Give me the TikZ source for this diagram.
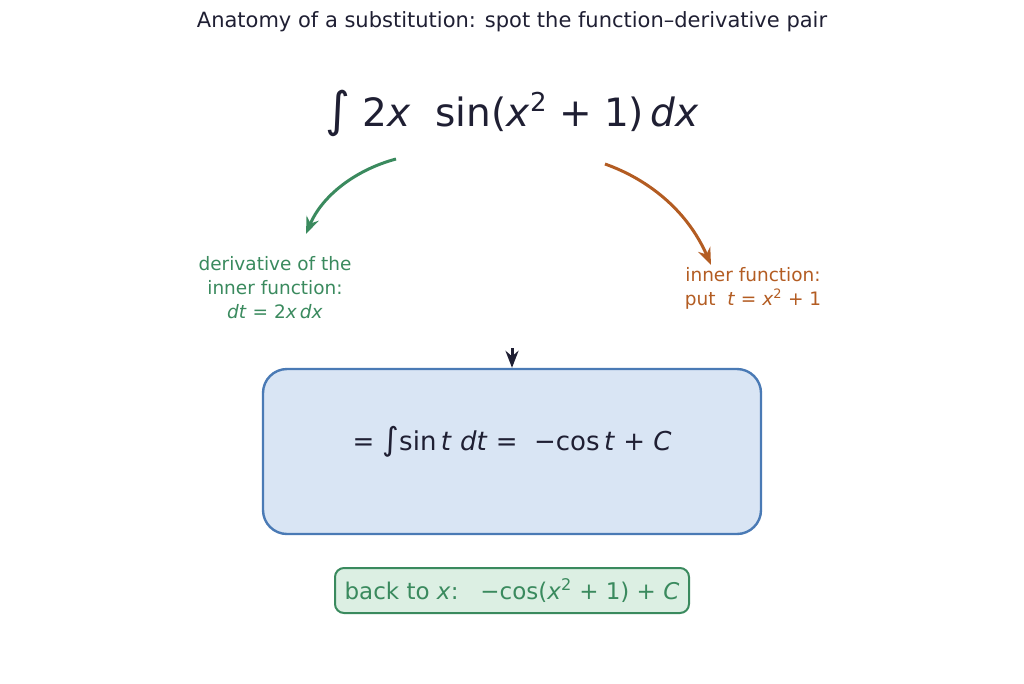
\documentclass[tikz,border=0pt]{standalone}
\usepackage{fontspec}
\setmainfont{DejaVu Sans}
\usetikzlibrary{arrows.meta}
\definecolor{ink}{HTML}{1F1F33}
\definecolor{grn}{HTML}{3A8A5E}
\definecolor{org}{HTML}{B35C22}
\definecolor{bfill}{HTML}{D9E5F4}
\definecolor{bline}{HTML}{4A7AB5}
\definecolor{gfill}{HTML}{DCEFE3}
\newcommand{\vx}[1]{\textit{#1}}
\newcommand{\sq}{\raisebox{15pt}{\fontsize{26}{26}\selectfont 2}}
\begin{document}
\begin{tikzpicture}[x=1pt,y=-1pt,
  arr/.style={line width=3pt,-{Stealth[length=17pt,width=13pt]}},
  lab/.style={align=center,font=\fontsize{18.5}{24}\selectfont}]
\useasboundingbox (0,0) rectangle (1024,683);
\node[text=ink,font=\fontsize{21}{25}\selectfont] (title) at (512,22) {Anatomy of a substitution: spot the function–derivative pair};
\node[text=ink,font=\fontsize{39}{44}\selectfont] (main) at (512,113) {{\fontsize{48}{50}\selectfont∫} 2\vx{x}\ \ sin(\vx{x}\sq{} + 1)\,\vx{dx}};
\coordinate (g1) at (396,159); \coordinate (g2) at (306,234);
\coordinate (o1) at (605,164); \coordinate (o2) at (711,265);
\draw[arr,grn] (g1) .. controls (355,170) and (322,196) .. (g2);
\draw[arr,org] (o1) .. controls (650,180) and (688,212) .. (o2);
\node[lab,text=grn] (gl) at (275,288) {derivative of the\\inner function:\\\vx{dt} = 2\vx{x}\,\vx{dx}};
\node[lab,text=org] (ol) at (753,288) {inner function:\\put\ \ \vx{t} = \vx{x}\textsuperscript{2} + 1};
\node[draw=bline,fill=bfill,line width=2.4pt,rounded corners=24pt,minimum width=498pt,minimum height=165pt] (box) at (512,451.5) {};
\node[text=ink,font=\fontsize{26}{30}\selectfont] (f) at (512,442) {= {\fontsize{32}{34}\selectfont∫}sin\,\vx{t}\ \vx{dt}\ = \ −cos\,\vx{t} + \vx{C}};
\coordinate (d1) at (512,348);
\draw[arr,ink] (d1) -- (box.north);
\node[draw=grn,fill=gfill,line width=2pt,rounded corners=9pt,minimum width=354pt,minimum height=45pt,text=grn,font=\fontsize{23}{27}\selectfont] (back) at (512,590.5) {back to \vx{x}:\ \ \ −cos(\vx{x}\textsuperscript{2} + 1) + \vx{C}};
\end{tikzpicture}
\end{document}
